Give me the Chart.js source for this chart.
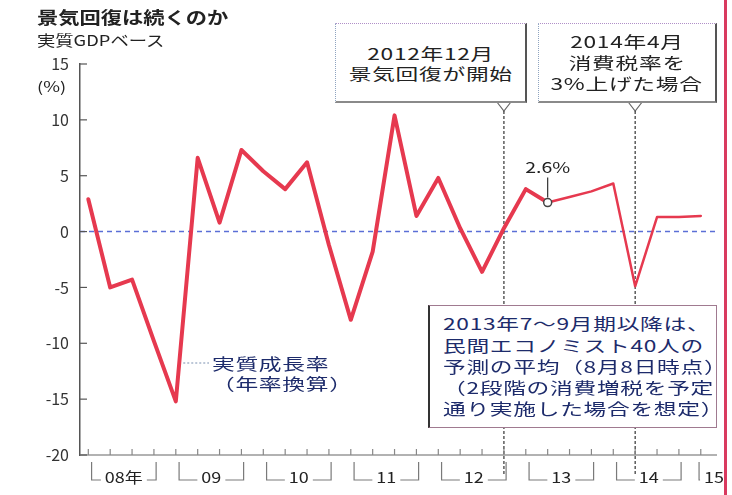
<!DOCTYPE html>
<html lang="ja">
<head>
<meta charset="utf-8">
<script src="https://cdn.jsdelivr.net/npm/chart.js@4.4.1/dist/chart.umd.min.js"></script>
<style>
  html, body { margin: 0; padding: 0; background: #fff; }
  #wrap { position: relative; width: 732px; height: 495px; overflow: hidden;
    font-family: "Noto Sans CJK JP", "Noto Sans", sans-serif; color: #222; }
  #plot-box { position: absolute; left: 0; top: 0; width: 732px; height: 495px; }
  .abs { position: absolute; white-space: nowrap; }
  .fx { display: inline-block; transform: scaleX(1.42); letter-spacing: 0.5px; }
  .lft .fx { transform-origin: 0 50%; }
  .title { font-size: 17px; font-weight: bold; line-height: 20px; }
  .title .fx { transform: scaleX(1.25); letter-spacing: 0; }
  .sub { font-size: 15px; line-height: 18px; }
  .sub .fx { transform: scaleX(1.22); letter-spacing: 0; }
  .box { position: absolute; background: #fff; box-sizing: border-box;
    border-left: 1px dotted #8fa4c0; border-top: 1px dotted #b08fc8;
    border-right: 2px solid #555; border-bottom: 2px solid #8a8a8a;
    display: flex; flex-direction: column; justify-content: center; align-items: center;
    font-size: 16px; line-height: 20px; }
  #note { position: absolute; background: #fff; box-sizing: border-box;
    border: 1px solid #a07a90; border-left: 2px solid #333;
    padding-left: 13px; display: flex; flex-direction: column; justify-content: center;
    font-size: 16px; line-height: 21.3px; color: #1d2b6b; }
  #legend { font-size: 16px; line-height: 20px; color: #1d2b6b; }
  #edge { position: absolute; left: 724px; top: 0; width: 3px; height: 495px; background: #d93a5f; }
</style>
</head>
<body>
<div id="wrap">
  <div id="plot-box"><canvas id="chart"></canvas></div>

  <div class="abs lft title" style="left:37px;top:7px"><span class="fx">景気回復は続くのか</span></div>
  <div class="abs lft sub" style="left:37px;top:31px"><span class="fx">実質GDPベース</span></div>
  <div class="abs lft sub" style="left:37px;top:77px;font-size:14px"><span class="fx" style="transform:scaleX(1.3)">(%)</span></div>

  <div id="box1" class="box" style="left:335px;top:23px;width:192px;height:80px">
    <div><span class="fx">2012年12月</span></div>
    <div><span class="fx">景気回復が開始</span></div>
  </div>
  <div id="box2" class="box" style="left:538px;top:23px;width:179px;height:80px;line-height:21px">
    <div><span class="fx">2014年4月</span></div>
    <div><span class="fx">消費税率を</span></div>
    <div><span class="fx">3%上げた場合</span></div>
  </div>

  <div id="note" class="lft" style="left:428px;top:305px;width:289px;height:123px">
    <div><span class="fx">2013年7～9月期以降は、</span></div>
    <div><span class="fx">民間エコノミスト40人の</span></div>
    <div><span class="fx">予測の平均（8月8日時点）</span></div>
    <div><span class="fx">（2段階の消費増税を予定</span></div>
    <div><span class="fx">通り実施した場合を想定）</span></div>
  </div>

  <div id="legend" class="abs lft" style="left:212px;top:353px">
    <div><span class="fx">実質成長率</span></div>
    <div><span class="fx">（年率換算）</span></div>
  </div>

  <div id="edge"></div>
</div>

<script>
/* global Chart */

// quarterly real GDP growth, annualized (%), 2008 Q1 .. 2015 Q1
const quarters = [
  "08Q1", "08Q2", "08Q3", "08Q4", "09Q1", "09Q2", "09Q3", "09Q4",
  "10Q1", "10Q2", "10Q3", "10Q4", "11Q1", "11Q2", "11Q3", "11Q4",
  "12Q1", "12Q2", "12Q3", "12Q4", "13Q1", "13Q2", "13Q3", "13Q4",
  "14Q1", "14Q2", "14Q3", "14Q4", "15Q1",
];
const growth = [
  2.9, -5.0, -4.3, -9.8, -15.2, 6.6, 0.8, 7.3,
  5.4, 3.8, 6.2, -1.2, -7.9, -1.8, 10.4, 1.4,
  4.8, 0.3, -3.6, 0.3, 3.8, 2.6, 3.1, 3.6,
  4.3, -4.9, 1.3, 1.3, 1.4,
];
const yearLabels = ["08年", "09", "10", "11", "12", "13", "14", "15"];
const yTicks = [15, 10, 5, 0, -5, -10, -15, -20];
const lastActual = quarters.indexOf("13Q2");   // 2.6% point, forecasts after it
const lastActualLabel = "2.6%";
const eventQuarters = ["12Q4", "14Q2"];        // 2012年12月, 2014年4月

const lineColor = "#e6394f";
const fontJP = "'Noto Sans CJK JP', 'Noto Sans', sans-serif";

function scaledText(ctx, text, x, y, sx) {
  ctx.save();
  ctx.translate(x, y);
  ctx.scale(sx, 1);
  ctx.fillText(text, 0, 0);
  ctx.restore();
}

const overlay = {
  id: "overlay",
  beforeDatasetsDraw(chart) {
    const { ctx, chartArea: a, scales: { x, y } } = chart;
    ctx.save();
    // zero line
    const y0 = y.getPixelForValue(0);
    ctx.strokeStyle = "#5b6fd6";
    ctx.lineWidth = 1.5;
    ctx.setLineDash([5, 4]);
    ctx.beginPath();
    ctx.moveTo(a.left, y0);
    ctx.lineTo(a.right + 2, y0);
    ctx.stroke();

    // event lines hanging from the call-out boxes
    eventQuarters.forEach((q, i) => {
      const box = document.getElementById("box" + (i + 1));
      const top = box.offsetTop + box.offsetHeight;
      const px = x.getPixelForValue(quarters.indexOf(q));
      ctx.setLineDash([]);
      ctx.strokeStyle = "#666";
      ctx.lineWidth = 1.2;
      ctx.fillStyle = "#fff";
      ctx.beginPath();
      ctx.moveTo(px - 7, top - 1);
      ctx.lineTo(px, top + 8);
      ctx.lineTo(px + 7, top - 1);
      ctx.fill();
      ctx.stroke();
      ctx.strokeStyle = "#333";
      ctx.setLineDash([3, 2]);
      ctx.beginPath();
      ctx.moveTo(px, top + 8);
      ctx.lineTo(px, a.bottom + 20);
      ctx.stroke();
    });
    ctx.restore();
  },
  afterDraw(chart) {
    const { ctx, chartArea: a, scales: { x, y } } = chart;
    ctx.save();
    ctx.setLineDash([]);

    // bottom axis
    ctx.strokeStyle = "#999";
    ctx.lineWidth = 1.5;
    ctx.beginPath();
    ctx.moveTo(a.left, a.bottom);
    ctx.lineTo(a.right + 2, a.bottom);
    ctx.stroke();

    // inward y ticks
    ctx.strokeStyle = "#555";
    ctx.lineWidth = 1.2;
    yTicks.forEach((v) => {
      const py = y.getPixelForValue(v);
      ctx.beginPath();
      ctx.moveTo(a.left, py);
      ctx.lineTo(a.left + 7, py);
      ctx.stroke();
    });

    // quarter ticks
    ctx.strokeStyle = "#888";
    quarters.forEach((q, i) => {
      const px = x.getPixelForValue(i);
      ctx.beginPath();
      ctx.moveTo(px, a.bottom);
      ctx.lineTo(px, a.bottom - 6);
      ctx.stroke();
    });

    // year brackets
    ctx.font = "15px " + fontJP;
    ctx.fillStyle = "#222";
    ctx.textAlign = "center";
    ctx.textBaseline = "middle";
    const top = a.bottom + 7, bot = a.bottom + 25, ly = a.bottom + 22;
    yearLabels.forEach((lab, k) => {
      let xs = x.getPixelForValue(4 * k + 0.15);
      const xe = x.getPixelForValue(4 * k + 3.1);
      const full = xe <= a.right;
      const w = ctx.measureText(lab).width * 1.2;
      let cx = (xs + xe) / 2;
      if (!full) {
        cx = xs + w / 2;
        xs -= 5;
      }
      ctx.strokeStyle = "#7a7a7a";
      ctx.lineWidth = 1.2;
      ctx.beginPath();
      ctx.moveTo(xs, top);
      ctx.lineTo(xs, bot);
      ctx.lineTo(Math.max(xs, cx - w / 2 - 4), bot);
      if (full) {
        ctx.moveTo(cx + w / 2 + 4, bot);
        ctx.lineTo(xe, bot);
        ctx.lineTo(xe, top);
      }
      ctx.stroke();
      scaledText(ctx, lab, cx, ly, 1.2);
    });

    // 2.6% call-out
    const px = x.getPixelForValue(lastActual);
    const py = y.getPixelForValue(growth[lastActual]);
    ctx.strokeStyle = "#333";
    ctx.lineWidth = 1.2;
    ctx.beginPath();
    ctx.moveTo(px, py - 5);
    ctx.lineTo(px, py - 25);
    ctx.stroke();
    ctx.font = "15px " + fontJP;
    ctx.fillStyle = "#222";
    scaledText(ctx, lastActualLabel, px, py - 35, 1.3);

    // legend leader
    const leg = document.getElementById("legend");
    const lyPix = leg.offsetTop + 10;
    const v = y.getValueForPixel(lyPix);
    let xc = a.left;
    for (let i = 0; i < growth.length - 1; i++) {
      const lo = Math.min(growth[i], growth[i + 1]), hi = Math.max(growth[i], growth[i + 1]);
      if (i >= 4 && v >= lo && v <= hi) {
        const t = (v - growth[i]) / (growth[i + 1] - growth[i]);
        xc = x.getPixelForValue(i + t);
        break;
      }
    }
    ctx.strokeStyle = "#7a8fb0";
    ctx.setLineDash([2, 2]);
    ctx.beginPath();
    ctx.moveTo(xc + 4, lyPix);
    ctx.lineTo(leg.offsetLeft - 3, lyPix);
    ctx.stroke();
    ctx.restore();
  },
};

new Chart(document.getElementById("chart"), {
  type: "line",
  data: {
    datasets: [
      {
        label: "実質成長率",
        data: growth.map((v, i) => ({ x: i, y: v })),
        borderColor: lineColor,
        borderWidth: 4,
        segment: { borderWidth: (c) => (c.p0DataIndex >= lastActual ? 2.5 : 4) },
        pointRadius: (c) => (c.dataIndex === lastActual ? 4 : 0),
        pointBackgroundColor: "#fff",
        pointBorderColor: "#444",
        pointBorderWidth: 1.5,
        borderJoinStyle: "round",
        borderCapStyle: "round",
        tension: 0,
      },
    ],
  },
  options: {
    responsive: true,
    maintainAspectRatio: false,
    animation: false,
    layout: { padding: { top: 64, right: 17, bottom: 40, left: 0 } },
    plugins: { legend: { display: false }, tooltip: { enabled: false } },
    scales: {
      x: { type: "linear", display: false, min: -0.38, max: 28.65 },
      y: {
        min: -20,
        max: 15,
        afterFit: (s) => { s.width = 80; },
        ticks: { stepSize: 5, padding: 11, color: "#333", font: { size: 16, family: fontJP } },
        grid: { display: false, drawTicks: false },
        border: { display: true, color: "#555", width: 1.5 },
      },
    },
  },
  plugins: [overlay],
});
</script>
</body>
</html>
